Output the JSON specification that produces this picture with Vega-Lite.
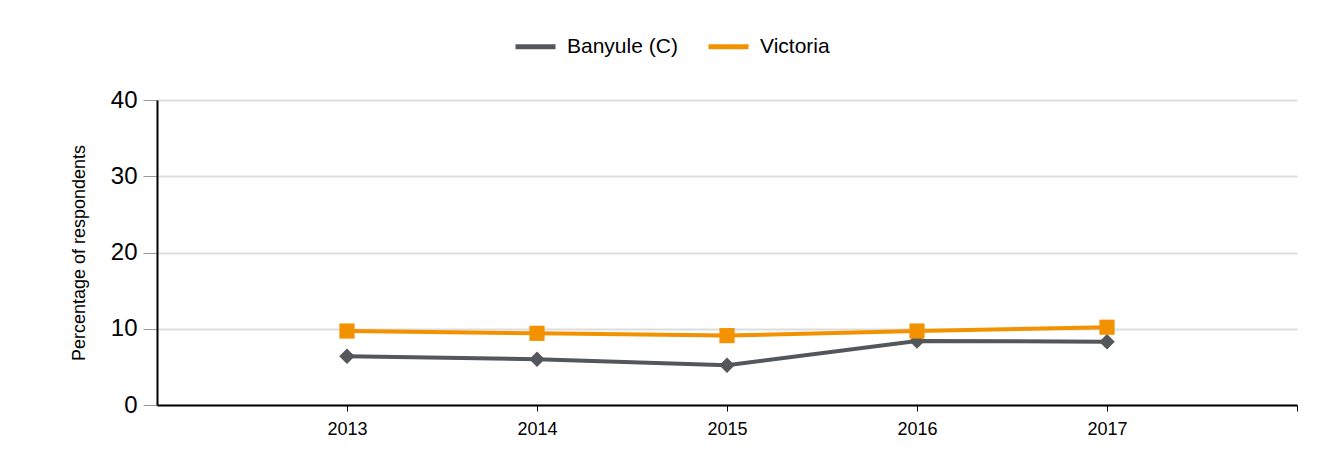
{
  "$schema": "https://vega.github.io/schema/vega-lite/v6.json",
  "width": 1140,
  "height": 305,
  "autosize": "none",
  "padding": {"left": 157, "top": 100, "right": 34, "bottom": 51},
  "background": "white",
  "config": {
    "font": "Liberation Sans",
    "view": {"stroke": null}
  },
  "resolve": {
    "scale": {"color": "independent", "fill": "independent", "shape": "independent"},
    "legend": {"color": "independent", "fill": "independent", "shape": "independent"}
  },
  "data": {
    "values": [
      {"year": 2013, "series": "Banyule (C)", "value": 6.4},
      {"year": 2014, "series": "Banyule (C)", "value": 6.0},
      {"year": 2015, "series": "Banyule (C)", "value": 5.2},
      {"year": 2016, "series": "Banyule (C)", "value": 8.4},
      {"year": 2017, "series": "Banyule (C)", "value": 8.3},
      {"year": 2013, "series": "Victoria", "value": 9.7},
      {"year": 2014, "series": "Victoria", "value": 9.4},
      {"year": 2015, "series": "Victoria", "value": 9.1},
      {"year": 2016, "series": "Victoria", "value": 9.7},
      {"year": 2017, "series": "Victoria", "value": 10.2}
    ]
  },
  "encoding": {
    "x": {
      "field": "year", "type": "quantitative",
      "scale": {"domain": [2012, 2018], "nice": false, "zero": false},
      "axis": {
        "values": [2013, 2014, 2015, 2016, 2017, 2018],
        "labelExpr": "datum.value == 2018 ? '' : datum.label",
        "format": "d", "grid": false, "title": null,
        "domainColor": "black", "domainWidth": 2,
        "tickColor": "black", "tickSize": 6, "tickWidth": 1,
        "labelFontSize": 18, "labelColor": "black", "labelPadding": 9
      }
    },
    "y": {
      "field": "value", "type": "quantitative",
      "scale": {"domain": [0, 40], "nice": false},
      "axis": {
        "values": [0, 10, 20, 30, 40],
        "title": "Percentage of respondents",
        "titleFontSize": 18, "titleFontWeight": "normal", "titleColor": "black",
        "titlePadding": 22,
        "labelFontSize": 24, "labelColor": "black", "labelPadding": 6,
        "domainColor": "black", "domainWidth": 2,
        "tickColor": "#999999", "tickSize": 14, "tickWidth": 1,
        "grid": true, "gridColor": "#dddddd", "gridWidth": 2
      }
    }
  },
  "layer": [
    {
      "mark": {"type": "line", "strokeWidth": 4},
      "encoding": {
        "color": {
          "field": "series", "type": "nominal",
          "scale": {"domain": ["Banyule (C)", "Victoria"], "range": ["#53565a", "#f39200"]},
          "legend": {
            "title": null, "orient": "none", "direction": "horizontal",
            "legendX": 356, "legendY": -76,
            "symbolType": "stroke", "symbolSize": 1600, "symbolStrokeWidth": 5,
            "labelFontSize": 21, "labelColor": "black", "columnPadding": 20, "labelOffset": 9
          }
        }
      }
    },
    {
      "mark": {"type": "point", "filled": true, "opacity": 1},
      "encoding": {
        "fill": {
          "field": "series", "type": "nominal",
          "scale": {"domain": ["Banyule (C)", "Victoria"], "range": ["#53565a", "#f39200"]},
          "legend": null
        },
        "shape": {
          "field": "series", "type": "nominal",
          "scale": {"domain": ["Banyule (C)", "Victoria"], "range": ["diamond", "square"]},
          "legend": null
        },
        "size": {
          "field": "series", "type": "nominal",
          "scale": {"domain": ["Banyule (C)", "Victoria"], "range": [240, 230]},
          "legend": null
        }
      }
    }
  ]
}
